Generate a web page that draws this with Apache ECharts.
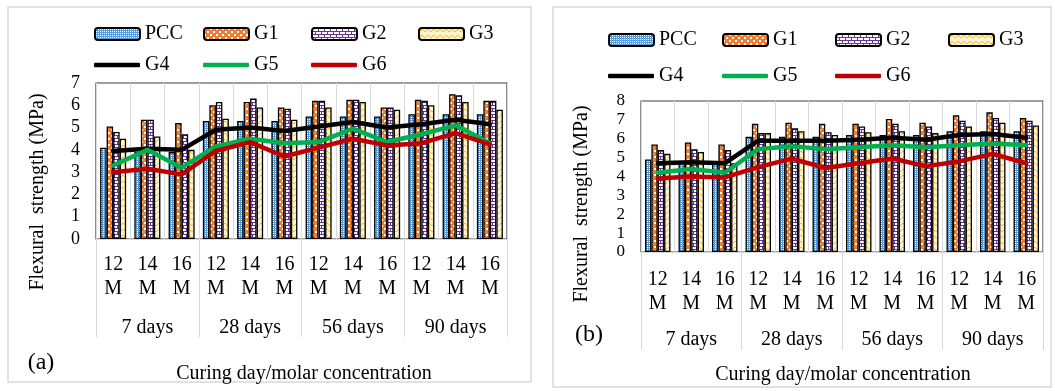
<!DOCTYPE html>
<html><head><meta charset="utf-8">
<script src="https://cdn.jsdelivr.net/npm/echarts@6/dist/echarts.min.js"></script>
<style>html,body{margin:0;padding:0;background:#fff}#c{width:1055px;height:391px}</style>
</head><body><div id="c"></div>
<script>
// ---- data ----
const categories = ['12\nM','14\nM','16\nM','12\nM','14\nM','16\nM','12\nM','14\nM','16\nM','12\nM','14\nM','16\nM'];
const groups = ['7 days','28 days','56 days','90 days'];
// panel (a)
const pccA = [4.1, 3.9, 3.9, 5.3, 5.3, 5.3, 5.5, 5.5, 5.5, 5.6, 5.6, 5.6];
const g1A  = [5.05, 5.35, 5.2, 6.0, 6.15, 5.9, 6.2, 6.25, 5.9, 6.25, 6.5, 6.2];
const g2A  = [4.8, 5.35, 4.7, 6.15, 6.3, 5.85, 6.2, 6.25, 5.9, 6.2, 6.45, 6.2];
const g3A  = [4.5, 4.6, 4.0, 5.4, 5.9, 5.35, 5.9, 6.15, 5.8, 6.0, 6.15, 5.8];
const g4A  = [3.95, 4.05, 4.0, 4.9, 5.0, 4.85, 5.05, 5.25, 5.0, 5.15, 5.35, 5.15];
const g5A  = [3.3, 4.0, 3.2, 4.15, 4.5, 4.3, 4.35, 4.95, 4.35, 4.7, 5.1, 4.3];
const g6A  = [3.0, 3.15, 2.9, 3.95, 4.35, 3.7, 4.1, 4.5, 4.2, 4.3, 4.75, 4.25];
// panel (b)
const pccB = [4.9, 4.75, 4.75, 6.1, 6.1, 6.1, 6.2, 6.2, 6.2, 6.4, 6.4, 6.4];
const g1B  = [5.7, 5.8, 5.7, 6.8, 6.85, 6.8, 6.8, 7.05, 6.85, 7.25, 7.4, 7.1];
const g2B  = [5.4, 5.45, 5.4, 6.3, 6.55, 6.35, 6.65, 6.8, 6.65, 6.95, 7.1, 6.95];
const g3B  = [5.2, 5.3, 4.7, 6.3, 6.4, 6.2, 6.35, 6.4, 6.3, 6.65, 6.85, 6.7];
const g4B  = [4.7, 4.75, 4.7, 5.9, 5.9, 5.9, 5.95, 6.05, 5.95, 6.2, 6.25, 6.05];
const g5B  = [4.2, 4.4, 4.2, 5.45, 5.6, 5.45, 5.55, 5.65, 5.55, 5.65, 5.75, 5.65];
const g6B  = [3.9, 4.0, 3.95, 4.5, 4.95, 4.45, 4.7, 4.95, 4.55, 4.8, 5.2, 4.7];
const barNames = ['PCC','G1','G2','G3'];
const lineNames = ['G4','G5','G6'];

// ---- patterns ----
function pat(w,h,draw){const c=document.createElement('canvas');c.width=w;c.height=h;const x=c.getContext('2d');draw(x);return {image:c,repeat:'repeat'};}
const pPCC = pat(4,4,x=>{x.fillStyle='#5b9bd5';x.fillRect(0,0,4,4);x.fillStyle='#ffffff';[[1,1],[3,3],[1,3],[3,1]].forEach(p=>x.fillRect(p[0],p[1],1,1));});
const pG1 = pat(6,6,x=>{x.fillStyle='#ed7d31';x.fillRect(0,0,6,6);x.fillStyle='#ffffff';x.fillRect(0,0,2,2);x.fillRect(3,3,2,2);});
const pG2 = pat(6,6,x=>{x.fillStyle='#ffffff';x.fillRect(0,0,6,6);x.fillStyle='#7030a0';x.fillRect(0,0,6,1);x.fillRect(0,3,6,1);x.fillRect(0,0,1,3);x.fillRect(3,3,1,3);});
const pG3 = pat(6,6,x=>{x.fillStyle='#fff2cc';x.fillRect(0,0,6,6);x.strokeStyle='#ffc000';x.lineWidth=1;x.beginPath();x.moveTo(0,4);x.lineTo(3,1);x.lineTo(6,4);x.stroke();});
const pats = [pPCC,pG1,pG2,pG3];
const lineColors = ['#000000','#00b050','#c00000'];
const FONT = 'Liberation Serif';

const panels = [
  {bars:[pccA,g1A,g2A,g3A], lines:[g4A,g5A,g6A], grid:{left:96,top:83,width:411,height:156}, max:7, yfs:18,
   subMargin:14, grpMargin:79, legX:[94,203,311,418], legY:[24,55], catGap:'24%'},
  {bars:[pccB,g1B,g2B,g3B], lines:[g4B,g5B,g6B], grid:{left:641,top:101,width:402,height:151}, max:8, yfs:17,
   subMargin:16, grpMargin:78, legX:[608,722,835,948], legY:[30,66], catGap:'24%'}
];

const option = {animation:false, grid:[], xAxis:[], yAxis:[], series:[], legend:[], graphic:[]};
panels.forEach((p,i)=>{
  option.grid.push(Object.assign({show:true,borderColor:'#404040',borderWidth:1.2,backgroundColor:'transparent'},p.grid));
  option.xAxis.push({type:'category',gridIndex:i,data:categories,boundaryGap:true,
    axisLine:{show:true,lineStyle:{color:'#d9d9d9',width:1.2}},axisTick:{show:false},
    splitLine:{show:true,interval:0,lineStyle:{color:'#d9d9d9',width:1}},
    axisLabel:{interval:0,margin:p.subMargin,fontFamily:FONT,fontSize:20,lineHeight:24,color:'#000'}});
  option.xAxis.push({type:'category',gridIndex:i,data:groups,position:'bottom',boundaryGap:true,
    axisLine:{show:false},axisTick:{show:true,length:98,interval:0,lineStyle:{color:'#d9d9d9',width:1}},
    axisLabel:{interval:0,margin:p.grpMargin,fontFamily:FONT,fontSize:20,color:'#000'}});
  option.yAxis.push({type:'value',gridIndex:i,min:0,max:p.max,interval:1,
    axisLine:{show:false},axisTick:{show:false},splitLine:{show:false},
    axisLabel:{margin:16,fontFamily:FONT,fontSize:p.yfs,color:'#000'}});
  barNames.forEach((n,k)=>{
    option.series.push({type:'bar',name:n,xAxisIndex:i*2,yAxisIndex:i,data:p.bars[k],barGap:'0%',barCategoryGap:p.catGap,
      itemStyle:{color:pats[k],borderColor:'#000',borderWidth:1.3},z:2});
  });
  lineNames.forEach((n,k)=>{
    option.series.push({type:'line',name:n,xAxisIndex:i*2,yAxisIndex:i,data:p.lines[k],symbol:'none',z:5,
      itemStyle:{color:lineColors[k]},lineStyle:{color:lineColors[k],width:4.5,cap:'round',join:'round'}});
  });
  barNames.forEach((n,k)=>option.legend.push({data:[n],left:p.legX[k],top:p.legY[0],padding:0,itemWidth:45,itemHeight:12,itemGap:0,
    textStyle:{fontFamily:FONT,fontSize:20,color:'#000'},selectedMode:false}));
  lineNames.forEach((n,k)=>option.legend.push({data:[{name:n,icon:'roundRect'}],left:p.legX[k],top:p.legY[1],padding:0,itemWidth:46,itemHeight:4.5,itemGap:0,
    itemStyle:{color:lineColors[k],borderWidth:0},lineStyle:{width:0},
    textStyle:{fontFamily:FONT,fontSize:20,color:'#000'},selectedMode:false}));
});
option.graphic = [
  {type:'rect',shape:{x:8,y:7,width:523,height:375},style:{fill:'none',stroke:'#d9d9d9',lineWidth:1.5},silent:true},
  {type:'rect',shape:{x:553,y:7,width:498,height:380},style:{fill:'none',stroke:'#d9d9d9',lineWidth:1.5},silent:true},
  {type:'text',x:38,y:192,rotation:Math.PI/2,style:{text:'Flexural  strength (MPa)',font:'20px "Liberation Serif"',fill:'#000',align:'center',verticalAlign:'middle'}},
  {type:'text',x:582,y:204,rotation:Math.PI/2,style:{text:'Flexural  strength (MPa)',font:'20px "Liberation Serif"',fill:'#000',align:'center',verticalAlign:'middle'}},
  {type:'text',x:41,y:363,style:{text:'(a)',font:'24px "Liberation Serif"',fill:'#000',align:'center',verticalAlign:'middle'}},
  {type:'text',x:589,y:335,style:{text:'(b)',font:'24px "Liberation Serif"',fill:'#000',align:'center',verticalAlign:'middle'}},
  {type:'text',x:304,y:374,style:{text:'Curing day/molar concentration',font:'20px "Liberation Serif"',fill:'#000',align:'center',verticalAlign:'middle'}},
  {type:'text',x:843,y:375,style:{text:'Curing day/molar concentration',font:'20px "Liberation Serif"',fill:'#000',align:'center',verticalAlign:'middle'}}
];
const chart = echarts.init(document.getElementById('c'),null,{renderer:'canvas'});
chart.setOption(option);
</script></body></html>
